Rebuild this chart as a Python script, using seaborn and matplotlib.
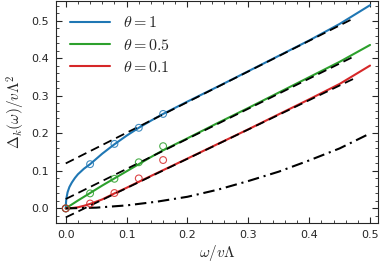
import matplotlib
matplotlib.use("Agg")
import matplotlib.pyplot as plt
import seaborn as sns
import pandas as pd
from matplotlib.ticker import MultipleLocator

# solid curves, theta = 1, 0.5, 0.1
x_blue = [0, 0.0005, 0.001, 0.003, 0.006, 0.01, 0.015, 0.02, 0.03, 0.04, 0.06, 0.08, 0.10, 0.12,
          0.14, 0.16, 0.2, 0.25, 0.3, 0.35, 0.4, 0.45, 0.5]
y_blue = [0, 0.017, 0.026, 0.043, 0.057, 0.069, 0.081, 0.091, 0.106, 0.118, 0.146, 0.171, 0.194, 0.215,
          0.234, 0.252, 0.285, 0.325, 0.366, 0.407, 0.448, 0.492, 0.542]
x_green = [0, 0.02, 0.04, 0.06, 0.08, 0.10, 0.12, 0.14, 0.16, 0.2, 0.25, 0.3, 0.35, 0.4, 0.45, 0.5]
y_green = [0, 0.021, 0.041, 0.061, 0.080, 0.099, 0.118, 0.137, 0.155, 0.187, 0.228, 0.268,
           0.309, 0.350, 0.391, 0.436]
x_red = [0, 0.01, 0.02, 0.03, 0.04, 0.06, 0.08, 0.10, 0.12, 0.16, 0.2, 0.25, 0.3, 0.35, 0.4, 0.45, 0.5]
y_red = [0, 0.001, 0.003, 0.007, 0.012, 0.024, 0.040, 0.055, 0.071, 0.102, 0.133, 0.172,
         0.211, 0.251, 0.291, 0.332, 0.381]

# asymptotes (dashed)
x_asym = [0, 0.472]
y_asym_blue = [0.120, 0.506]
y_asym_green = [0.025, 0.404]
y_asym_red = [-0.024, 0.345]

# dash-dot curve
x_dd = [0, 0.05, 0.1, 0.15, 0.2, 0.25, 0.3, 0.35, 0.4, 0.45, 0.495]
y_dd = [0, 0.002, 0.008, 0.018, 0.031, 0.05, 0.073, 0.098, 0.128, 0.16, 0.196]

# open-circle points
x_pts = [0, 0.04, 0.08, 0.12, 0.16]
pts_blue = [0, 0.118, 0.172, 0.215, 0.252]
pts_green = [0, 0.040, 0.079, 0.123, 0.166]
pts_red = [0, 0.013, 0.041, 0.080, 0.129]

labels = [r'$\theta = 1$', r'$\theta = 0.5$', r'$\theta = 0.1$']
colors = ['#1f77b4', '#2ca02c', '#d62728']

sns.set_style("ticks")
plt.rcParams['font.family'] = ['DejaVu Sans']
plt.rcParams['mathtext.fontset'] = 'cm'
plt.rcParams['xtick.direction'] = 'in'
plt.rcParams['ytick.direction'] = 'in'

fig, ax = plt.subplots(figsize=(3.81, 2.70), dpi=100)
fig.subplots_adjust(left=0.147, right=0.992, top=0.996, bottom=0.174)

curves = [(x_blue, y_blue), (x_green, y_green), (x_red, y_red)]
for (xs, ys), c, lab in zip(curves, colors, labels):
    sns.lineplot(x=xs, y=ys, ax=ax, color=c, lw=1.5, label=lab, sort=False, estimator=None)

for ys in [y_asym_blue, y_asym_green, y_asym_red]:
    line = sns.lineplot(x=x_asym, y=ys, ax=ax, color='black', lw=1.3,
                        sort=False, estimator=None).lines[-1]
    line.set_dashes((5, 2.8))

dd = sns.lineplot(x=x_dd, y=y_dd, ax=ax, color='black', lw=1.5,
                  sort=False, estimator=None).lines[-1]
dd.set_dashes((5.5, 2.3, 1, 2.3))

for ys, c in zip([pts_blue, pts_green, pts_red], colors):
    pts = pd.DataFrame({'x': x_pts, 'y': ys})
    sns.scatterplot(data=pts, x='x', y='y', ax=ax, marker='o', s=24,
                    facecolors='none', edgecolor=c, linewidth=0.8, alpha=0.85, zorder=4)

ax.set_xlim(-0.016, 0.513)
ax.set_ylim(-0.039, 0.553)
ax.xaxis.set_major_locator(MultipleLocator(0.1))
ax.xaxis.set_minor_locator(MultipleLocator(0.02))
ax.yaxis.set_major_locator(MultipleLocator(0.1))
ax.yaxis.set_minor_locator(MultipleLocator(0.02))
ax.tick_params(which='both', direction='in', top=True, right=True, labelsize=8, pad=5)
ax.tick_params(which='major', length=4, width=0.8)
ax.tick_params(which='minor', length=2, width=0.6)
for sp in ax.spines.values():
    sp.set_visible(True)
    sp.set_linewidth(0.8)

ax.set_xlabel(r'$\omega/v\Lambda$', fontsize=11, labelpad=2)
ax.set_ylabel(r'$\Delta_k(\omega)/v\Lambda^2$', fontsize=11, labelpad=3)

ax.legend(loc='upper left', frameon=False, fontsize=11.5, handlelength=2.5,
          handletextpad=0.8, labelspacing=0.45)

fig.savefig('out.png', dpi=100)
